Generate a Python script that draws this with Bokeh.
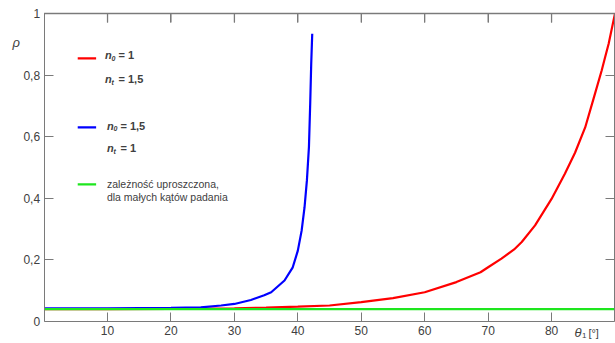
from bokeh.plotting import figure
from bokeh.models import Range1d, LinearAxis, FixedTicker, Label, Span
from bokeh.embed import file_html
from bokeh.resources import INLINE

# --- data ---
theta_red = [0, 10, 20, 30, 35, 40, 45, 50, 55, 60, 65, 68.8, 70, 72.1, 74.1, 75.3, 77.4,
             80, 82.1, 83.7, 85.3, 86.6, 87.9, 88.4, 89.0, 90]
rho_red = [0.040, 0.040, 0.041, 0.043, 0.045, 0.048, 0.052, 0.063, 0.076, 0.095, 0.128, 0.160,
           0.176, 0.204, 0.234, 0.258, 0.312, 0.398, 0.480, 0.548, 0.630, 0.722,
           0.815, 0.855, 0.902, 1.0]

theta_blue = [0, 10, 20, 24.7, 27.9, 30, 32.6, 34.7, 35.8, 37.9, 39.2, 40.0, 40.6, 41.06,
              41.43, 41.75, 41.95, 42.11, 42.27]
rho_blue = [0.043, 0.043, 0.044, 0.046, 0.052, 0.057, 0.070, 0.085, 0.095, 0.133, 0.176,
            0.230, 0.295, 0.371, 0.458, 0.566, 0.707, 0.837, 0.934]

theta_green = [0, 90]
rho_green = [0.04, 0.04]

x_ticks = [10, 20, 30, 40, 50, 60, 70, 80]
y_ticks = [0, 0.2, 0.4, 0.6, 0.8, 1]
y_tick_labels = ["0", "0,2", "0,4", "0,6", "0,8", "1"]

legend_text_1 = "zależność uproszczona,"
legend_text_2 = "dla małych kątów padania"

FONT = "Liberation Sans"
AX = "#7a7a7a"
TXT = "#404040"

X0, X1 = 0, 90
Y0, Y1 = 0, 1
XPAD = (-6.874, 90.08)
YPAD = (-0.0714, 1.0422)
PX_X = 6.343
PX_Y = 308.0
TICK = 9

p = figure(width=615, height=343, output_backend="svg", toolbar_location=None,
           x_range=Range1d(*XPAD), y_range=Range1d(*YPAD),
           x_axis_type=None, y_axis_type=None,
           min_border_left=0, min_border_right=0, min_border_top=0, min_border_bottom=0)
p.outline_line_color = None
p.xgrid.visible = False
p.ygrid.visible = False


def style(ax, tick_in=TICK, tick_out=0, labels=True):
    ax.axis_line_color = AX
    ax.major_tick_line_color = AX
    ax.minor_tick_line_color = None
    ax.major_tick_in = tick_in
    ax.major_tick_out = tick_out
    ax.major_label_text_font = FONT
    ax.major_label_text_font_size = "12px"
    ax.major_label_text_color = TXT if labels else None


xb = LinearAxis(ticker=FixedTicker(ticks=x_ticks), fixed_location=Y0, bounds=(X0, X1))
style(xb)
xb.major_label_standoff = 4
p.add_layout(xb, "below")

yl = LinearAxis(ticker=FixedTicker(ticks=y_ticks), fixed_location=X0, bounds=(Y0, Y1))
style(yl)
yl.major_label_standoff = 4
yl.major_label_overrides = {t: s for t, s in zip(y_ticks, y_tick_labels)}
p.add_layout(yl, "left")

xt = LinearAxis(ticker=FixedTicker(ticks=x_ticks), fixed_location=Y1, bounds=(X0, X1))
style(xt, tick_in=0, tick_out=TICK, labels=False)
xt.major_label_overrides = {t: "" for t in x_ticks}
p.add_layout(xt, "below")

inner_y = y_ticks[1:-1]
yr = LinearAxis(ticker=FixedTicker(ticks=inner_y), fixed_location=X1, bounds=(Y0, Y1))
style(yr, tick_in=0, tick_out=TICK, labels=False)
yr.major_label_overrides = {t: "" for t in inner_y}
p.add_layout(yr, "left")

# frame top / right edges drawn again as glyphs (same place as the pinned axes)
p.segment(x0=[X0, X1], y0=[Y1, Y0], x1=[X1, X1], y1=[Y1, Y1], line_color="#808080",
          line_width=1.6)
p.segment(x0=x_ticks, y0=[Y1] * len(x_ticks), x1=x_ticks,
          y1=[Y1 - TICK / PX_Y] * len(x_ticks), line_color="#808080", line_width=1.3)

# curves
p.line(theta_red, rho_red, line_color="#ff0000", line_width=2.2)
p.line(theta_blue, rho_blue, line_color="#0000ff", line_width=2.2)
p.line(theta_green, rho_green, line_color="#1ee61e", line_width=2.2)

# legend samples
for y, c in [(0.854, "#ff0000"), (0.630, "#0000ff"), (0.445, "#1ee61e")]:
    p.line([5.3, 8.2], [y, y], line_color=c, line_width=2.2)


def lab(**kw):
    kw.setdefault("text_font", FONT)
    kw.setdefault("text_color", TXT)
    kw.setdefault("text_baseline", "middle")
    p.add_layout(Label(**kw))


def nlabel(x, y, sub, rest):
    lab(x=x, y=y, text="n", text_font_size="11px", text_font_style="bold italic")
    lab(x=x, y=y, x_offset=6.5, y_offset=-3, text=sub, text_font_size="7px",
        text_font_style="bold italic")
    lab(x=x, y=y, x_offset=13.5, text=rest, text_font_size="11px", text_font_style="bold")


nlabel(9.6, 0.864, "0", "= 1")
nlabel(9.6, 0.786, "t", "= 1,5")
nlabel(9.9, 0.636, "0", "= 1,5")
nlabel(9.9, 0.562, "t", "= 1")

for y, t in [(0.448, legend_text_1), (0.403, legend_text_2)]:
    lab(x=9.9, y=y, text=t, text_font_size="10.5px")

lab(x=-5.0, y=0.905, text="ρ", text_font_size="13px", text_font_style="italic")
lab(x=83.6, y=-0.037, text="θ", text_font_size="13px", text_font_style="italic")
lab(x=83.6, y=-0.037, x_offset=7.5, y_offset=-3, text="1", text_font_size="8px")
lab(x=83.6, y=-0.037, x_offset=14, text="[°]", text_font_size="11px")

open("out.html", "w").write(file_html(p, INLINE))
